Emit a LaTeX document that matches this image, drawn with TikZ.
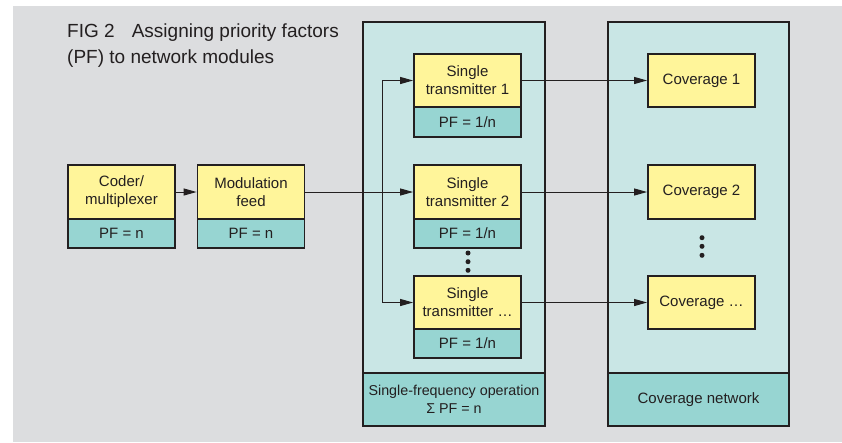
\documentclass[tikz,border=0pt]{standalone}
\usepackage{fontspec}
\setmainfont{Liberation Sans}
\usetikzlibrary{arrows.meta}
\definecolor{bggray}{HTML}{DCDDDF}
\definecolor{paleteal}{HTML}{C9E6E5}
\definecolor{labteal}{HTML}{97D5D2}
\definecolor{boxyellow}{HTML}{FFF59A}
\definecolor{inkdark}{HTML}{231F20}
\tikzset{
  box/.style={draw=inkdark, line width=1.8pt, inner sep=0pt, align=center,
    font=\fontsize{15}{18}\selectfont, text=inkdark},
  yel/.style={box, fill=boxyellow, minimum width=107pt, minimum height=#1},
  pf/.style={box, fill=labteal, minimum width=107pt, minimum height=#1},
  frame/.style={box, fill=paleteal, minimum width=#1},
  flow/.style={draw=inkdark, line width=1pt, -{Triangle[length=13pt,width=7pt]}},
  wire/.style={draw=inkdark, line width=1pt},
  dot/.style={fill=inkdark, circle, inner sep=0pt, minimum size=5pt},
  ttl/.style={anchor=base west, inner sep=0pt, text=inkdark, font=\fontsize{19}{24}\selectfont}
}
\begin{document}
\begin{tikzpicture}[x=1pt, y=-1pt]
  \useasboundingbox (0,0) rectangle (842,442);
  % backdrop
  \fill[bggray] (13,6) rectangle (842,442);

  % title
  \node[ttl] (title1) at (67,37) {FIG 2\hspace{0.9em}Assigning priority factors};
  \node[ttl] (title2) at (67,63) {(PF) to network modules};

  % large frames
  \node[frame=182pt, minimum height=351pt] (sfn) at (454,197.5) {};
  \node[box, fill=labteal, minimum width=182pt, minimum height=53pt,
        font=\fontsize{14.3}{18}\selectfont] (sfnlab) at (454,399.5)
        {Single-frequency operation\\Σ PF = n};
  \node[frame=181pt, minimum height=351pt] (cov) at (698.5,197.5) {};
  \node[box, fill=labteal, minimum width=181pt, minimum height=53pt] (covlab) at (698.5,399.5)
        {Coverage network};

  % source chain
  \node[yel=54pt] (coder) at (121.5,192) {Coder/\\multiplexer};
  \node[pf=29pt] (coderpf) at (121.5,233.5) {PF = n};
  \node[yel=54pt] (mod) at (251,192) {Modulation\\feed};
  \node[pf=29pt] (modpf) at (251,233.5) {PF = n};

  % transmitters
  \node[yel=53pt] (tx1) at (467.5,80.5) {Single\\transmitter 1};
  \node[pf=30pt] (tx1pf) at (467.5,122) {PF = 1/n};
  \node[yel=54pt] (tx2) at (467.5,192) {Single\\transmitter 2};
  \node[pf=29pt] (tx2pf) at (467.5,233.5) {PF = 1/n};
  \node[yel=53pt] (tx3) at (467.5,302.5) {Single\\transmitter \dots};
  \node[pf=29pt] (tx3pf) at (467.5,343.5) {PF = 1/n};

  % coverage areas
  \node[yel=53pt] (c1) at (701.5,80.5) {Coverage 1};
  \node[yel=54pt] (c2) at (701.5,192) {Coverage 2};
  \node[yel=53pt] (c3) at (701.5,302.5) {Coverage \dots};

  % continuation dots
  \node[dot] (td1) at (468,253) {};
  \node[dot] (td2) at (468,261.7) {};
  \node[dot] (td3) at (468,270.3) {};
  \node[dot] (cd1) at (702,237.7) {};
  \node[dot] (cd2) at (702,246.3) {};
  \node[dot] (cd3) at (702,255.3) {};

  % signal flow
  \coordinate (splittop) at (382,80.5);
  \coordinate (splitbot) at (382,302.5);
  \draw[flow] (coder.east) -- (mod.west);
  \draw[flow] (mod.east) -- (tx2.west);
  \draw[wire] (splittop) -- (splitbot);
  \draw[flow] (splittop) -- (tx1.west);
  \draw[flow] (splitbot) -- (tx3.west);
  \draw[flow] (tx1.east) -- (c1.west);
  \draw[flow] (tx2.east) -- (c2.west);
  \draw[flow] (tx3.east) -- (c3.west);
\end{tikzpicture}
\end{document}
